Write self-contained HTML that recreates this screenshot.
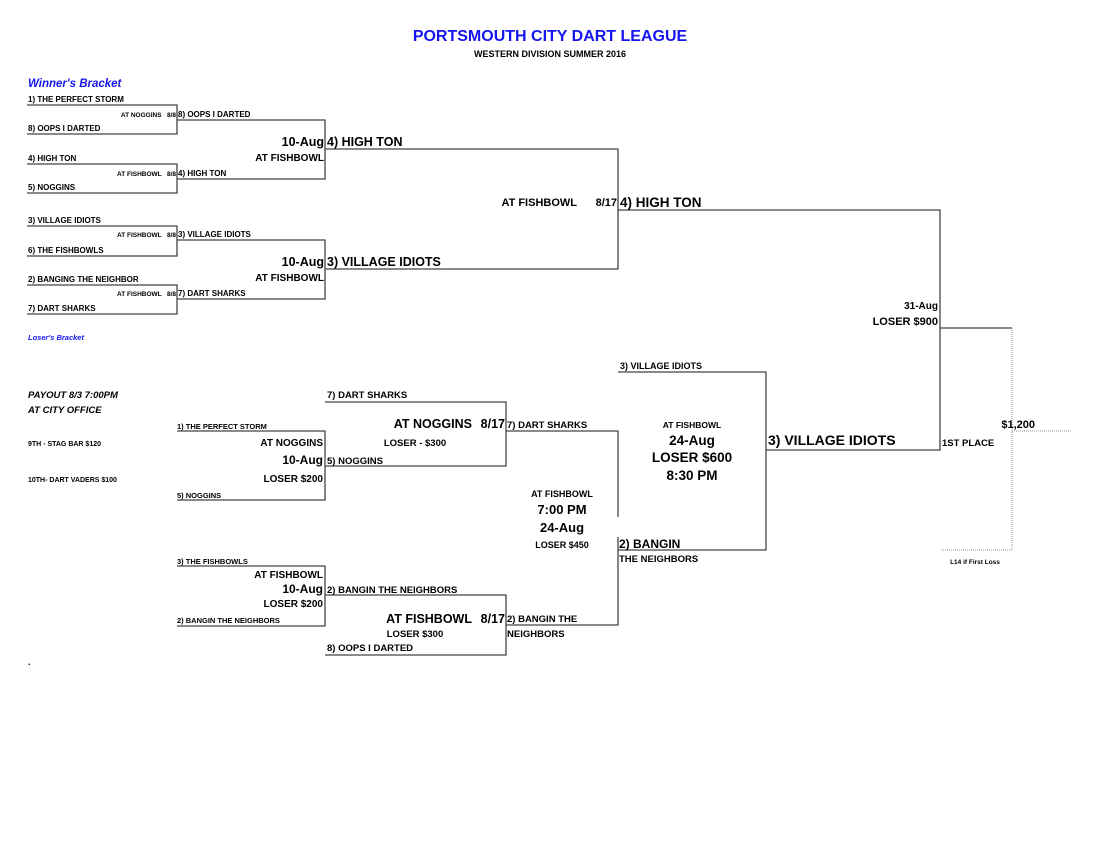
<!DOCTYPE html>
<html><head><meta charset="utf-8"><style>
html,body{margin:0;padding:0;background:#fff;}
svg{display:block;font-family:"Liberation Sans",Arial,sans-serif;font-weight:bold;}
</style></head><body>
<svg width="1100" height="850" viewBox="0 0 1100 850" xmlns="http://www.w3.org/2000/svg">
<g stroke="#444" stroke-width="1.3" fill="none">
<path d="M27 105H177V134H27"/>
<path d="M27 164H177V193H27"/>
<path d="M27 226H177V256H27"/>
<path d="M27 285H177V314H27"/>
<path d="M177 120H325V179H177"/>
<path d="M177 240H325V299H177"/>
<path d="M325 149H618V269H325"/>
<path d="M618 210H940V450H766"/>
<path d="M940 328H1012"/>
<path d="M325 402H506V466H325"/>
<path d="M177 431H325V500H177"/>
<path d="M177 566H325V626H177"/>
<path d="M325 595H506V655H325"/>
<path d="M506 431H618V517"/>
<path d="M618 537V625H506"/>
<path d="M618 372H766V550H618"/>
</g>
<g stroke="#999" stroke-width="1" stroke-dasharray="1,1" fill="none">
<path d="M1012 328V550H940"/>
<path d="M1012 431H1072"/>
</g>
<g fill="#000">
<text x="550" y="41" text-anchor="middle" font-size="16" fill="#1515ee">PORTSMOUTH CITY DART LEAGUE</text>
<text x="550" y="57" text-anchor="middle" font-size="9">WESTERN DIVISION SUMMER 2016</text>
<text x="28" y="87" font-size="11.5" font-style="italic" fill="#1515ee">Winner's Bracket</text>

<g font-size="8">
<text x="28" y="102">1) THE PERFECT STORM</text>
<text x="28" y="131">8) OOPS I DARTED</text>
<text x="28" y="161">4) HIGH TON</text>
<text x="28" y="190">5) NOGGINS</text>
<text x="28" y="223">3) VILLAGE IDIOTS</text>
<text x="28" y="253">6) THE FISHBOWLS</text>
<text x="28" y="282">2) BANGING THE NEIGHBOR</text>
<text x="28" y="311">7) DART SHARKS</text>
<text x="178" y="117">8) OOPS I DARTED</text>
<text x="178" y="176">4) HIGH TON</text>
<text x="178" y="237">3) VILLAGE IDIOTS</text>
<text x="178" y="296">7) DART SHARKS</text>
</g>
<g font-size="6.5" text-anchor="end">
<text x="176" y="117">AT NOGGINS &#160; 8/8</text>
<text x="176" y="176">AT FISHBOWL &#160; 8/8</text>
<text x="176" y="237">AT FISHBOWL &#160; 8/8</text>
<text x="176" y="296">AT FISHBOWL &#160; 8/8</text>
</g>
<text x="324" y="146" font-size="12.5" text-anchor="end">10-Aug</text>
<text x="327" y="146" font-size="12.5">4) HIGH TON</text>
<text x="324" y="161" font-size="10" text-anchor="end">AT FISHBOWL</text>
<text x="324" y="266" font-size="12.5" text-anchor="end">10-Aug</text>
<text x="327" y="266" font-size="12.5">3) VILLAGE IDIOTS</text>
<text x="324" y="281" font-size="10" text-anchor="end">AT FISHBOWL</text>
<text x="577" y="206" font-size="11" text-anchor="end">AT FISHBOWL</text>
<text x="617" y="206" font-size="11" text-anchor="end">8/17</text>
<text x="620" y="207" font-size="13.5">4) HIGH TON</text>
<text x="938" y="309" font-size="10" text-anchor="end">31-Aug</text>
<text x="938" y="325" font-size="11" text-anchor="end">LOSER $900</text>

<text x="28" y="340" font-size="7.5" font-style="italic" fill="#1515ee">Loser's Bracket</text>
<text x="28" y="398" font-size="9.5" font-style="italic">PAYOUT 8/3 7:00PM</text>
<text x="28" y="413" font-size="9.5" font-style="italic">AT CITY OFFICE</text>
<text x="28" y="446" font-size="7">9TH  - STAG BAR $120</text>
<text x="28" y="482" font-size="7">10TH- DART VADERS $100</text>

<text x="327" y="398" font-size="9.5">7) DART SHARKS</text>
<text x="472" y="428" font-size="12.5" text-anchor="end">AT NOGGINS</text>
<text x="505" y="428" font-size="12.5" text-anchor="end">8/17</text>
<text x="507" y="428" font-size="9.5">7) DART SHARKS</text>
<text x="415" y="446" font-size="9.5" text-anchor="middle">LOSER - $300</text>
<text x="177" y="429" font-size="7.5">1) THE PERFECT STORM</text>
<text x="323" y="446" font-size="10" text-anchor="end">AT NOGGINS</text>
<text x="323" y="464" font-size="12" text-anchor="end">10-Aug</text>
<text x="327" y="464" font-size="9.5">5) NOGGINS</text>
<text x="323" y="482" font-size="10" text-anchor="end">LOSER $200</text>
<text x="177" y="498" font-size="7.5">5) NOGGINS</text>

<text x="177" y="564" font-size="7.5">3) THE FISHBOWLS</text>
<text x="323" y="578" font-size="10" text-anchor="end">AT FISHBOWL</text>
<text x="323" y="593" font-size="12" text-anchor="end">10-Aug</text>
<text x="327" y="593" font-size="9.5">2) BANGIN THE NEIGHBORS</text>
<text x="323" y="607" font-size="10" text-anchor="end">LOSER $200</text>
<text x="177" y="623" font-size="7.5">2) BANGIN THE NEIGHBORS</text>
<text x="472" y="623" font-size="12.5" text-anchor="end">AT FISHBOWL</text>
<text x="505" y="623" font-size="12.5" text-anchor="end">8/17</text>
<text x="507" y="622" font-size="9.5">2) BANGIN THE</text>
<text x="507" y="637" font-size="9.5">NEIGHBORS</text>
<text x="415" y="637" font-size="9.5" text-anchor="middle">LOSER $300</text>
<text x="327" y="651" font-size="9.5">8) OOPS I DARTED</text>

<g text-anchor="middle">
<text x="562" y="497" font-size="9">AT FISHBOWL</text>
<text x="562" y="514" font-size="13">7:00 PM</text>
<text x="562" y="532" font-size="13">24-Aug</text>
<text x="562" y="548" font-size="9">LOSER $450</text>
<text x="692" y="428" font-size="8.5">AT FISHBOWL</text>
<text x="692" y="445" font-size="13.5">24-Aug</text>
<text x="692" y="462" font-size="13.5">LOSER $600</text>
<text x="692" y="480" font-size="13.5">8:30 PM</text>
<text x="975" y="564" font-size="6.5">L14 if First Loss</text>
</g>
<text x="620" y="369" font-size="9">3) VILLAGE IDIOTS</text>
<text x="619" y="548" font-size="12">2) BANGIN</text>
<text x="619" y="562" font-size="9.5">THE NEIGHBORS</text>
<text x="768" y="445" font-size="14">3) VILLAGE IDIOTS</text>
<text x="1035" y="428" font-size="11" text-anchor="end">$1,200</text>
<text x="942" y="446" font-size="9.5">1ST PLACE</text>
<text x="28" y="665" font-size="9">.</text>
</g>
</svg>
</body></html>
